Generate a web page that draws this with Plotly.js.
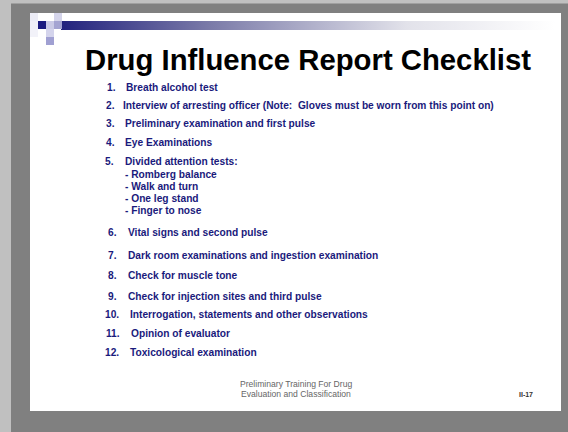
<!DOCTYPE html>
<html>
<head>
<meta charset="utf-8">
<script src="https://cdn.plot.ly/plotly-3.0.1.min.js"></script>
<style>html,body{margin:0;padding:0;background:#808080;}#chart{width:568px;height:432px;}</style>
</head>
<body>
<div id="chart"></div>
<script>
// ---- content ----
var slideTitle = "Drug Influence Report Checklist";
var itemNumbers = ["1.", "2.", "3.", "4.", "5.", "6.", "7.", "8.", "9.", "10.", "11.", "12."];
var itemTexts = [
  "Breath alcohol test",
  "Interview of arresting officer (Note:  Gloves must be worn from this point on)",
  "Preliminary examination and first pulse",
  "Eye Examinations",
  "Divided attention tests:",
  "Vital signs and second pulse",
  "Dark room examinations and ingestion examination",
  "Check for muscle tone",
  "Check for injection sites and third pulse",
  "Interrogation, statements and other observations",
  "Opinion of evaluator",
  "Toxicological examination"
];
var subItems = ["- Romberg balance", "- Walk and turn", "- One leg stand", "- Finger to nose"];
var footerLines = ["Preliminary Training For Drug", "Evaluation and Classification"];
var pageLabel = "II-17";

// ---- layout (pixel positions) ----
var itemY = [87, 105.5, 123.5, 142.5, 161.5, 232.5, 255, 275, 296, 314.5, 333.5, 352.5];
var numX = [105, 104, 104, 104, 103, 106, 106, 106, 106, 102.5, 103.5, 102.5];
var textX = [124, 121, 122.5, 123, 122.5, 125.5, 125.5, 125.5, 125.5, 127.5, 129, 127.5];
var subY = [174, 186.5, 198.5, 210.5];

var navy = "#1a1a7c";
var itemFont = {family: "Liberation Sans, Arial, sans-serif", size: 10.2, color: navy};

var annotations = [];
function addText(x, y, txt, font, anchor) {
  annotations.push({x: x, y: y, xref: "x", yref: "y", text: txt, showarrow: false,
    xanchor: anchor || "left", yanchor: "middle", font: font, align: "left"});
}
addText(308, 59, "<b>" + slideTitle + "</b>",
  {family: "Liberation Sans, Arial, sans-serif", size: 29.3, color: "#000000"}, "center");
for (var i = 0; i < itemTexts.length; i++) {
  addText(numX[i], itemY[i], "<b>" + itemNumbers[i] + "</b>", itemFont);
  addText(textX[i], itemY[i], "<b>" + itemTexts[i] + "</b>", itemFont);
}
for (var j = 0; j < subItems.length; j++) {
  addText(122.5, subY[j], "<b>" + subItems[j] + "</b>", itemFont);
}
var footFont = {family: "Liberation Sans, Arial, sans-serif", size: 8.6, color: "#666666"};
addText(296, 384, footerLines[0], footFont, "center");
addText(296, 393.5, footerLines[1], footFont, "center");
addText(517, 394, "<b>" + pageLabel + "</b>", {family: "Liberation Sans, Arial, sans-serif", size: 7, color: "#333333"});

// decorative shapes
var shapes = [
  {type: "rect", xref: "x", yref: "y", x0: 0, x1: 11, y0: 0, y1: 432, fillcolor: "#c0c0c0", line: {width: 0}, layer: "below"},
  {type: "rect", xref: "x", yref: "y", x0: 0, x1: 568, y0: 0, y1: 3.5, fillcolor: "#c0c0c0", line: {width: 0}, layer: "below"},
  {type: "rect", xref: "x", yref: "y", x0: 30, x1: 561, y0: 13, y1: 411, fillcolor: "#ffffff", line: {width: 0}, layer: "below"}
];
var squares = [
  [30, 13, "#ececf6"], [30, 21, "#f0f0f8"], [30, 29, "#f2f2f9"],
  [54, 13, "#d4d4ea"], [38, 21, "#1c1c80"], [46, 21, "#cacae6"], [54, 21, "#a4a4d2"],
  [46, 29, "#d4d4ec"], [46, 37, "#a0a0d2"]
];
squares.forEach(function (s) {
  shapes.push({type: "rect", xref: "x", yref: "y", x0: s[0], x1: s[0] + 8, y0: s[1], y1: s[1] + 8,
    fillcolor: s[2], line: {width: 0}});
});

var bar = {
  x: [61, 555, 555, 61, 61], y: [21, 21, 30, 30, 21],
  type: "scatter", mode: "lines", fill: "toself", line: {width: 0},
  fillgradient: {type: "horizontal", colorscale: [[0, "#22227e"], [0.3, "#7a7aa8"], [0.7, "#e2e2ea"], [1, "#ffffff"]]},
  hoverinfo: "skip", showlegend: false
};

var layout = {
  width: 568, height: 432,
  margin: {l: 0, r: 0, t: 0, b: 0},
  paper_bgcolor: "#808080", plot_bgcolor: "rgba(0,0,0,0)",
  xaxis: {range: [0, 568], visible: false, fixedrange: true},
  yaxis: {range: [432, 0], visible: false, fixedrange: true},
  shapes: shapes,
  annotations: annotations,
  showlegend: false
};
Plotly.newPlot("chart", [bar], layout, {staticPlot: true, displayModeBar: false});
</script>
</body>
</html>
